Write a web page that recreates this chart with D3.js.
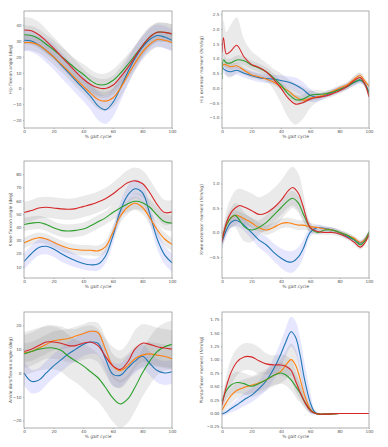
<!DOCTYPE html>
<html>
<head>
<meta charset="utf-8">
<script src="https://cdn.jsdelivr.net/npm/d3@7"></script>
<style>
  body { margin: 0; background: #fff; }
  svg text { font-family: "DejaVu Sans", sans-serif; fill: #555; }
</style>
</head>
<body>
<div id="chart"></div>
<script>
// gait-cycle sample points
const pct5 = [0,5,10,15,20,25,30,35,40,45,50,55,60,65,70,75,80,85,90,95,100];
const hipMomX = [0,1,3,6,10,15,20,25,30,35,40,45,50,55,60,65,70,75,80,85,90,94,97,100];
const kneeMomX = [0,3,6,9,12,15,20,25,30,35,40,45,48,52,55,60,65,70,75,80,85,90,94,97,100];
const plantX = [0,3,6,10,15,20,25,30,35,40,43,47,50,53,56,60,63,66,70,80,90,100];

// hip flexion angle (deg)
const hipAngBlue   = [30.5,30,27.5,24,20,15,10,5,0,-5,-11,-13.5,-9,0,10,19,26,31,33.5,32.5,30.5];
const hipAngOrange = [29,29,27.5,24,20,15.5,11,6,1.5,-3,-7,-8,-6,0,8,16,23,28,31,30.5,29];
const hipAngGreen  = [34,33.5,31.5,28,24.5,20.5,16.5,12.5,9,5,2.5,2.5,5,9.5,15,21,27,32.5,35.5,35.5,34.5];
const hipAngRed    = [37,36.5,34,30,25.5,20.5,15.5,10.5,6,2.5,0.5,0,2,7,13,20,27,32.5,35.5,35.5,34.5];
const hipAngSdBlue   = [7,7,7,7.5,8,8,8,8,8,8.5,9,9,9,8.5,8,7.5,7,7,7,7,7];
const hipAngSdOrange = [5,5,5,5,5,5,5,5,5,5.5,6,6,6,6,5.5,5,5,5,5,5,5];
const hipAngSdGreen  = [6,6,6,6,6,6,6,6,6.5,7,7,7,7,7,6.5,6,6,6,6,6,6];
const hipAngSdRed    = [8,8,8,7.5,7,7,7,7,6.5,6,6,6,6,6.5,7,7,7,6.5,6,6,6];

// hip extensor moment (Nm/kg)
const hipMomBlue   = [0.75,0.65,0.58,0.55,0.6,0.5,0.42,0.35,0.32,0.3,0.25,0.2,0.1,-0.05,-0.25,-0.32,-0.25,-0.15,-0.05,0.05,0.18,0.25,0.15,-0.15];
const hipMomOrange = [0.6,0.8,0.78,0.72,0.75,0.6,0.45,0.38,0.3,0.2,0.05,-0.1,-0.3,-0.42,-0.35,-0.3,-0.22,-0.12,0,0.1,0.3,0.42,0.25,0.05];
const hipMomGreen  = [0.3,0.95,0.85,0.85,0.95,0.92,0.78,0.68,0.55,0.35,0.1,-0.2,-0.4,-0.38,-0.25,-0.22,-0.2,-0.15,-0.05,0.05,0.2,0.28,0.15,-0.2];
const hipMomRed    = [1.2,1.7,1.15,1.25,1.45,1.05,0.8,0.7,0.55,0.3,0,-0.35,-0.55,-0.5,-0.38,-0.32,-0.28,-0.2,-0.1,0.05,0.25,0.35,0.15,-0.3];
const hipMomSdBlue   = [0.15,0.15,0.15,0.15,0.15,0.15,0.15,0.15,0.15,0.15,0.18,0.2,0.25,0.25,0.22,0.15,0.1,0.1,0.1,0.1,0.1,0.1,0.1,0.1];
const hipMomSdOrange = [0.1,0.1,0.1,0.1,0.1,0.1,0.1,0.1,0.1,0.1,0.1,0.1,0.1,0.1,0.1,0.1,0.1,0.1,0.1,0.1,0.1,0.1,0.1,0.1];
const hipMomSdGreen  = [0.3,0.2,0.15,0.15,0.15,0.15,0.15,0.15,0.15,0.15,0.15,0.15,0.15,0.15,0.15,0.15,0.1,0.1,0.1,0.1,0.12,0.12,0.1,0.1];
const hipMomSdRed    = [0.3,0.6,0.75,0.9,0.95,0.6,0.45,0.35,0.3,0.35,0.5,0.65,0.7,0.55,0.3,0.15,0.1,0.1,0.1,0.1,0.15,0.15,0.1,0.1];

// knee flexion angle (deg)
const kneeAngBlue   = [14,20,24.5,25.5,23.5,20,17,14.5,12.5,11.5,12,18,33,52,64,69,66,50,31,19,13];
const kneeAngOrange = [28,30.5,32,31,28.5,26,24,23,22.5,22.5,22,25,36,48,55,58,55,47,38,31,27];
const kneeAngGreen  = [42,43,43.5,42,39.5,37.5,37,37.5,38.5,41,44,47,51,54.5,57.5,59.5,58.5,55,49,44,43];
const kneeAngRed    = [51,52.5,54.5,55,54.5,53.8,53.5,54,55.5,57,59,61.5,65,69.5,73.5,75,73,66,57,51,51.5];
const kneeAngSdBlue   = [6,6,6,6,6,6,5.5,5,4.5,4.5,5,5.5,6,6.5,7,7,7,7.5,7.5,7,7];
const kneeAngSdOrange = [4,4,4,4,4,4,4,4,4,4,4,4.5,5,5,5,5,5,5,5,5,5];
const kneeAngSdGreen  = [5,5,5,5,5,5,5,5,5,5,5,5,5.5,6,6,6,6,6,6,6,6];
const kneeAngSdRed    = [8,8,8,8,8,8,8,8,8,8,8,8,8.5,9,9.5,10,10,10,10,9.5,9];

// knee extensor moment (Nm/kg)
const kneeMomBlue   = [-0.2,0.05,0.2,0.25,0.22,0.15,0,-0.15,-0.25,-0.4,-0.52,-0.6,-0.6,-0.5,-0.35,0,0.1,0.08,0.05,0,-0.08,-0.15,-0.22,-0.15,0];
const kneeMomOrange = [-0.1,0.15,0.3,0.35,0.33,0.28,0.2,0.1,0.05,0.1,0.18,0.2,0.18,0.15,0.15,0.12,0.1,0.07,0.05,0,-0.05,-0.12,-0.2,-0.15,0];
const kneeMomGreen  = [-0.15,0.15,0.3,0.35,0.25,0.12,0.05,0.1,0.2,0.35,0.5,0.65,0.7,0.6,0.4,0.1,0,0.05,0.05,0,-0.05,-0.15,-0.25,-0.18,0];
const kneeMomRed    = [-0.2,0.2,0.4,0.5,0.55,0.52,0.45,0.37,0.4,0.5,0.65,0.85,0.92,0.8,0.55,0.1,0.02,0,0,-0.03,-0.1,-0.2,-0.3,-0.22,-0.05];
const kneeMomSdBlue   = [0.12,0.12,0.12,0.12,0.12,0.12,0.13,0.15,0.17,0.18,0.2,0.22,0.22,0.2,0.18,0.1,0.06,0.05,0.05,0.05,0.05,0.05,0.05,0.05,0.05];
const kneeMomSdOrange = [0.1,0.1,0.1,0.1,0.1,0.1,0.1,0.1,0.1,0.1,0.1,0.1,0.1,0.1,0.1,0.08,0.06,0.05,0.05,0.05,0.05,0.05,0.05,0.05,0.05];
const kneeMomSdGreen  = [0.1,0.15,0.2,0.25,0.3,0.3,0.25,0.15,0.15,0.15,0.15,0.15,0.15,0.15,0.15,0.1,0.05,0.05,0.05,0.05,0.05,0.05,0.05,0.05,0.05];
const kneeMomSdRed    = [0.15,0.25,0.3,0.35,0.35,0.35,0.35,0.35,0.38,0.4,0.4,0.42,0.42,0.4,0.3,0.1,0.05,0.05,0.05,0.05,0.05,0.05,0.05,0.05,0.05];

// ankle dorsiflexion angle (deg)
const ankAngBlue   = [0,-3.5,-3,0,3,5.5,8,10,12,13,12.5,6,-0.5,-1,2,5,7,4,1,0,0.5];
const ankAngOrange = [8.5,9,10.5,12,13.5,14,14.5,15.5,16.5,17.5,17,10,3,1,3,6,7.5,8,7.5,7,6];
const ankAngGreen  = [8,9,10,10.5,10.5,9.5,7,5,3,0.5,-2,-6,-10.5,-13,-11,-6,0,5,9,11,12];
const ankAngRed    = [9,10,11.5,13,13,12.5,11.5,11.5,12.5,13,11.5,7,3,1.5,4.5,10,12.5,12,11,10.5,10];
const ankAngSdBlue   = [5,5,5,5,5,5,5,5,5,5,5,5,5,5,5,5,5,5,5,5,5];
const ankAngSdOrange = [4,4,4,4,4,4,4,4,4,4,4,5,5,5,5,5,5,5,5,5,5];
const ankAngSdGreen  = [9,9,9,9,9,9,9,9,9.5,10,10,10,10,10,10,10,10,10,10,10,10];
const ankAngSdRed    = [7,7,7,7,7,7,7,7,7,7,7,7.5,8,8,8,8,8,8,8,8,8];

// plantarflexor moment (Nm/kg)
const plantBlue   = [-0.02,0.02,0.08,0.15,0.25,0.33,0.45,0.6,0.82,1.1,1.3,1.52,1.42,1.1,0.65,0.2,0.02,-0.02,-0.02,-0.01,-0.01,-0.01];
const plantOrange = [0.05,0.2,0.32,0.42,0.48,0.52,0.56,0.62,0.7,0.78,0.88,1,0.9,0.65,0.35,0.08,0,-0.02,-0.02,-0.01,-0.01,-0.01];
const plantGreen  = [0.2,0.42,0.52,0.57,0.55,0.5,0.55,0.62,0.7,0.75,0.72,0.62,0.5,0.38,0.22,0.06,0,-0.02,-0.02,-0.01,-0.01,-0.01];
const plantRed    = [0.15,0.5,0.75,0.95,1.05,1.05,0.98,0.92,0.9,0.9,0.88,0.8,0.6,0.4,0.22,0.05,0,-0.02,-0.02,-0.01,-0.01,-0.01];
const plantSdBlue   = [0.03,0.05,0.07,0.1,0.12,0.13,0.15,0.18,0.2,0.24,0.26,0.28,0.3,0.32,0.3,0.2,0.05,0.02,0.01,0.01,0.01,0.01];
const plantSdOrange = [0.08,0.12,0.15,0.15,0.15,0.15,0.15,0.15,0.18,0.22,0.26,0.3,0.3,0.25,0.18,0.08,0.02,0.01,0.01,0.01,0.01,0.01];
const plantSdGreen  = [0.1,0.15,0.18,0.2,0.2,0.2,0.2,0.2,0.2,0.2,0.2,0.2,0.2,0.18,0.12,0.06,0.02,0.01,0.01,0.01,0.01,0.01];
const plantSdRed    = [0.1,0.2,0.25,0.25,0.25,0.25,0.25,0.2,0.18,0.2,0.2,0.2,0.2,0.15,0.1,0.05,0.02,0.01,0.01,0.01,0.01,0.01];

const xTicks = [0,20,40,60,80,100];
const colors = { blue: "#1f77b4", orange: "#ff7f0e", green: "#2ca02c", red: "#d62728" };

const panels = [
  { x: pct5, ylabel: "Hip flexion angle (deg)", ydom: [-25, 49], yticks: [-20,-10,0,10,20,30,40], fmt: d3.format("d"),
    series: [[hipAngBlue, hipAngSdBlue], [hipAngOrange, hipAngSdOrange], [hipAngGreen, hipAngSdGreen], [hipAngRed, hipAngSdRed]] },
  { x: hipMomX, ylabel: "Hip extensor moment (Nm/kg)", ydom: [-1.36, 2.61], yticks: [-1,-0.5,0,0.5,1,1.5,2,2.5], fmt: d3.format(".1f"),
    series: [[hipMomBlue, hipMomSdBlue], [hipMomOrange, hipMomSdOrange], [hipMomGreen, hipMomSdGreen], [hipMomRed, hipMomSdRed]] },
  { x: pct5, ylabel: "Knee flexion angle (deg)", ydom: [1.5, 90], yticks: [10,20,30,40,50,60,70,80], fmt: d3.format("d"),
    series: [[kneeAngBlue, kneeAngSdBlue], [kneeAngOrange, kneeAngSdOrange], [kneeAngGreen, kneeAngSdGreen], [kneeAngRed, kneeAngSdRed]] },
  { x: kneeMomX, ylabel: "Knee extensor moment (Nm/kg)", ydom: [-0.93, 1.46], yticks: [-0.5,0,0.5,1], fmt: d3.format(".1f"),
    series: [[kneeMomBlue, kneeMomSdBlue], [kneeMomOrange, kneeMomSdOrange], [kneeMomGreen, kneeMomSdGreen], [kneeMomRed, kneeMomSdRed]] },
  { x: pct5, ylabel: "Ankle dorsiflexion angle (deg)", ydom: [-23.1, 25.6], yticks: [-20,-10,0,10,20], fmt: d3.format("d"),
    series: [[ankAngBlue, ankAngSdBlue], [ankAngOrange, ankAngSdOrange], [ankAngGreen, ankAngSdGreen], [ankAngRed, ankAngSdRed]] },
  { x: plantX, ylabel: "Plantarflexor moment (Nm/kg)", ydom: [-0.28, 1.89], yticks: [-0.25,0,0.25,0.5,0.75,1,1.25,1.5,1.75], fmt: d3.format(".2f"),
    series: [[plantBlue, plantSdBlue], [plantOrange, plantSdOrange], [plantGreen, plantSdGreen], [plantRed, plantSdRed]] }
];
const seriesColors = [colors.blue, colors.orange, colors.green, colors.red];

const width = 388, height = 447;
const cols = [[24, 172], [222, 369]];
const rows = [[11, 128], [161, 278], [312, 428]];
const ylabelOffset = [12, 19];

const svg = d3.select("#chart").append("svg")
  .attr("width", width).attr("height", height);

panels.forEach((p, i) => {
  const [left, right] = cols[i % 2];
  const [top, bottom] = rows[Math.floor(i / 2)];

  const x = d3.scaleLinear().domain([0, 100]).range([left, right]);
  const y = d3.scaleLinear().domain(p.ydom).range([bottom, top]);

  const g = svg.append("g");
  const clipId = "clip" + i;
  g.append("clipPath").attr("id", clipId).append("rect")
    .attr("x", left).attr("y", top).attr("width", right - left).attr("height", bottom - top);

  const plot = g.append("g").attr("clip-path", `url(#${clipId})`);

  // shaded bands (mean ± sd)
  p.series.forEach(([mean, sd], k) => {
    const pts = p.x.map((v, j) => ({ x: v, y: mean[j], sd: sd[j] }));
    const area = d3.area()
      .curve(d3.curveCatmullRom)
      .x(d => x(d.x))
      .y0(d => y(d.y - d.sd))
      .y1(d => y(d.y + d.sd));
    plot.append("path")
      .datum(pts)
      .attr("fill", k === 0 ? "#4040ff" : "#808080")
      .attr("fill-opacity", k === 0 ? 0.13 : 0.17)
      .attr("d", area);
  });

  // mean curves
  p.series.forEach(([mean], k) => {
    const pts = p.x.map((v, j) => ({ x: v, y: mean[j] }));
    const line = d3.line()
      .curve(d3.curveCatmullRom)
      .x(d => x(d.x))
      .y(d => y(d.y));
    plot.append("path")
      .datum(pts)
      .attr("fill", "none")
      .attr("stroke", seriesColors[k])
      .attr("stroke-width", 1.1)
      .attr("d", line);
  });

  // axes
  const xAxis = d3.axisBottom(x).tickValues(xTicks).tickSize(1).tickPadding(1.2);
  const yAxis = d3.axisLeft(y).tickValues(p.yticks).tickFormat(p.fmt).tickSize(1).tickPadding(1.5);

  const gx = g.append("g").attr("transform", `translate(0,${bottom})`).call(xAxis);
  const gy = g.append("g").attr("transform", `translate(${left},0)`).call(yAxis);
  [gx, gy].forEach(a => {
    a.select(".domain").remove();
    a.selectAll(".tick line").attr("stroke", "#888").attr("stroke-width", 0.6);
    a.selectAll(".tick text").attr("font-size", 4.2).attr("fill", "#555").style("font-family", "DejaVu Sans");
  });

  // frame
  g.append("rect")
    .attr("x", left).attr("y", top)
    .attr("width", right - left).attr("height", bottom - top)
    .attr("fill", "none").attr("stroke", "#999").attr("stroke-width", 0.8);

  g.append("text")
    .attr("x", (left + right) / 2).attr("y", bottom + 10)
    .attr("text-anchor", "middle").attr("font-size", 4.4)
    .text("% gait cycle");

  g.append("text")
    .attr("transform", `translate(${left - ylabelOffset[i % 2]},${(top + bottom) / 2}) rotate(-90)`)
    .attr("text-anchor", "middle").attr("font-size", 4.4)
    .text(p.ylabel);
});
</script>
</body>
</html>
